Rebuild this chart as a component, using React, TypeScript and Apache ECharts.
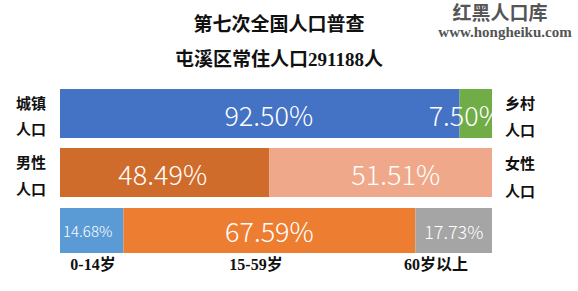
import React, { useEffect, useRef } from "react";
import * as echarts from "echarts";

const titles = ["第七次全国人口普查", "屯溪区常住人口291188人"];
const watermark = ["红黑人口库", "www.hongheiku.com"];
const urbanRural = [92.5, 7.5];
const maleFemale = [48.49, 51.51];
const ageGroups = [14.68, 67.59, 17.73];
const leftLabels = ["城镇\n人口", "男性\n人口"];
const rightLabels = ["乡村\n人口", "女性\n人口"];
const ageLabels = ["0-14岁", "15-59岁", "60岁以上"];

const SERIF = "'Liberation Serif', 'Noto Sans CJK SC', serif";
const SANS = "'Noto Sans CJK SC', sans-serif";

export default function App() {
  const ref = useRef<HTMLDivElement>(null);
  useEffect(() => {
    if (!ref.current) return;
    const chart = echarts.init(ref.current, undefined, { renderer: "svg" });

    const grids = [
      { left: 60, top: 89, width: 432, height: 49 },
      { left: 60, top: 148, width: 432, height: 49 },
      { left: 60, top: 208, width: 432, height: 45 },
    ];

    const mkLabel = (size: number, offset: number[]) => ({
      show: true,
      position: "inside",
      color: "#ffffff",
      fontSize: size,
      fontFamily: SANS,
      fontWeight: 300,
      offset,
      formatter: (p: any) => Number(p.value).toFixed(2) + "%",
    });

    const rows = [
      { values: urbanRural, colors: ["#4472C4", "#70AD47"], sizes: [27, 27], offsets: [[9, 1], [-10, 1]] },
      { values: maleFemale, colors: ["#D06C2B", "#F0A88A"], sizes: [27, 27], offsets: [[-2, 1], [15, 1]] },
      { values: ageGroups, colors: ["#5B9BD5", "#ED7D31", "#A5A5A5"], sizes: [15, 27, 18], offsets: [[-4, 0], [0, 0], [0, 0]] },
    ];

    const series: any[] = [];
    rows.forEach((row, gi) => {
      row.values.forEach((v, i) => {
        series.push({
          type: "bar",
          xAxisIndex: gi,
          yAxisIndex: gi,
          stack: "row" + gi,
          data: [v],
          barWidth: "100%",
          itemStyle: { color: row.colors[i] },
          label: mkLabel(row.sizes[i], row.offsets[i]),
        });
      });
    });

    const sideText = (text: string, x: number, y: number) => ({
      type: "text",
      z: 101,
      style: {
        text,
        x,
        y,
        textAlign: "left",
        textVerticalAlign: "middle",
        fontSize: 15,
        fontWeight: "bold",
        fontFamily: SERIF,
        fill: "#111111",
      },
    });

    const graphics: any[] = [];
    // white mask that clips the overflowing end of the last label in row 1
    graphics.push({
      type: "rect",
      z: 100,
      shape: { x: 492.5, y: 89, width: 12, height: 49 },
      style: { fill: "#ffffff" },
    });
    const leftYs = [[104, 130], [163, 190]];
    const rightYs = [[104, 131], [164, 192]];
    leftLabels.forEach((l, i) => {
      l.split("\n").forEach((t, j) => graphics.push(sideText(t, 16, leftYs[i][j])));
    });
    rightLabels.forEach((l, i) => {
      l.split("\n").forEach((t, j) => graphics.push(sideText(t, 505, rightYs[i][j])));
    });
    const ageX = [93, 256, 436];
    ageLabels.forEach((t, i) => {
      graphics.push({
        type: "text",
        z: 101,
        style: {
          text: t,
          x: ageX[i],
          y: 264,
          textAlign: "center",
          textVerticalAlign: "middle",
          fontSize: 16,
          fontWeight: "bold",
          fontFamily: SERIF,
          fill: "#111111",
        },
      });
    });
    const titleY = [24, 59];
    titles.forEach((t, i) => {
      graphics.push({
        type: "text",
        z: 101,
        style: {
          text: t,
          x: 279,
          y: titleY[i],
          textAlign: "center",
          textVerticalAlign: "middle",
          fontSize: 19,
          fontWeight: "bold",
          fontFamily: SERIF,
          fill: "#111111",
        },
      });
    });
    graphics.push({
      type: "text",
      z: 101,
      style: {
        text: watermark[0],
        x: 500,
        y: 13,
        textAlign: "center",
        textVerticalAlign: "middle",
        fontSize: 19,
        fontWeight: "bold",
        fontFamily: SERIF,
        fill: "#555555",
      },
    });
    graphics.push({
      type: "text",
      z: 101,
      style: {
        text: watermark[1],
        x: 505,
        y: 32,
        textAlign: "center",
        textVerticalAlign: "middle",
        fontSize: 15,
        fontWeight: "bold",
        fontFamily: SERIF,
        fill: "#555555",
      },
    });

    chart.setOption({
      animation: false,
      backgroundColor: "#ffffff",
      grid: grids,
      xAxis: grids.map((_, i) => ({ type: "value", gridIndex: i, min: 0, max: 100, show: false })),
      yAxis: grids.map((_, i) => ({ type: "category", gridIndex: i, data: ["r" + i], show: false })),
      series,
      graphic: graphics,
    });
    return () => chart.dispose();
  }, []);
  return (
    <div
      ref={ref}
      style={{ position: "fixed", left: 0, top: 0, width: 578, height: 291 }}
    />
  );
}
